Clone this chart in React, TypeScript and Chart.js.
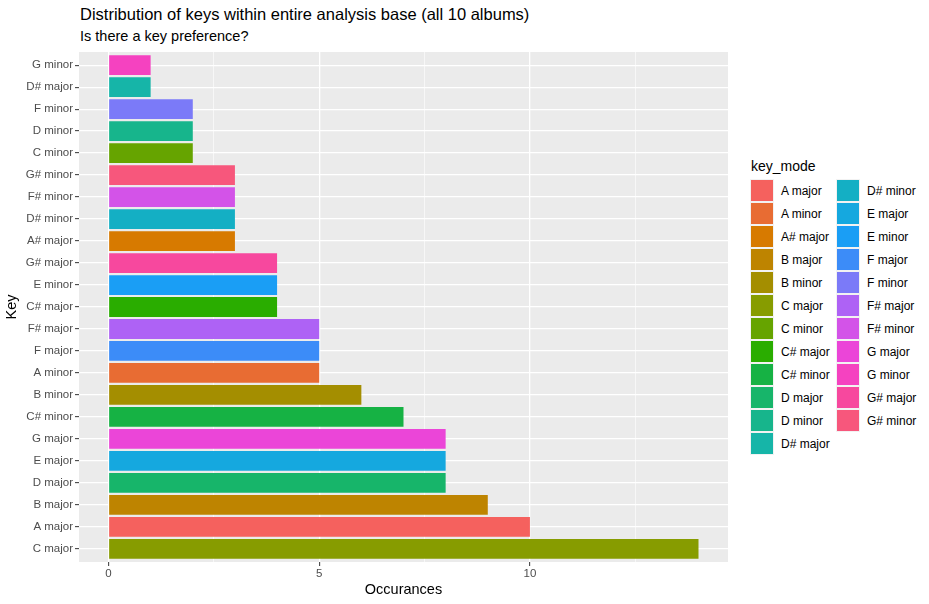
import { useEffect, useRef } from "react";
import { Chart, registerables } from "chart.js";

Chart.register(...registerables);

// bars, listed bottom to top as drawn
const keys = [
  "C major", "A major", "B major", "D major", "E major", "G major",
  "C# minor", "B minor", "A minor", "F major", "F# major", "C# major",
  "E minor", "G# major", "A# major", "D# minor", "F# minor", "G# minor",
  "C minor", "D minor", "F minor", "D# major", "G minor",
];
const occurances = [
  14, 10, 9, 8, 8, 8,
  7, 6, 5, 5, 5, 4,
  4, 4, 3, 3, 3, 3,
  2, 2, 2, 1, 1,
];

// legend order (alphabetical, as ggplot sorts the factor)
const legendKeys = [
  "A major", "A minor", "A# major", "B major", "B minor", "C major",
  "C minor", "C# major", "C# minor", "D major", "D minor", "D# major",
  "D# minor", "E major", "E minor", "F major", "F minor", "F# major",
  "F# minor", "G major", "G minor", "G# major", "G# minor",
];
const legendColors = [
  "#F5615E", "#E86C33", "#D77A00", "#BE8400", "#A48E00", "#879C00",
  "#66A400", "#2AAD00", "#16B244", "#17B56A", "#17B58C", "#16B5A8",
  "#14AFC4", "#15A8DF", "#1A9EF5", "#3C8CF8", "#7B7AF8", "#AE62F5",
  "#D353E8", "#EB45D8", "#F542C0", "#F7489E", "#F7577C",
];

const xTicks = [0, 2.5, 5, 7.5, 10, 12.5];

const FONT = "'Liberation Sans', Arial, Helvetica, sans-serif";

const colorOf = (k: string) => legendColors[legendKeys.indexOf(k)];

const panelBackground = {
  id: "panelBackground",
  beforeDraw(chart: Chart) {
    const { ctx, chartArea } = chart;
    ctx.save();
    ctx.fillStyle = "#EBEBEB";
    ctx.fillRect(chartArea.left, chartArea.top, chartArea.right - chartArea.left, chartArea.bottom - chartArea.top);
    ctx.restore();
  },
};

function KeyChart() {
  const canvasRef = useRef<HTMLCanvasElement | null>(null);

  useEffect(() => {
    if (!canvasRef.current) return;
    const chart = new Chart(canvasRef.current, {
      type: "bar",
      data: {
        datasets: [
          {
            data: keys.map((k, i) => ({ x: occurances[i], y: i })),
            backgroundColor: keys.map(colorOf),
            borderWidth: 0,
            barPercentage: 0.9,
            categoryPercentage: 1,
          },
        ],
      },
      options: {
        indexAxis: "y",
        responsive: true,
        maintainAspectRatio: false,
        animation: false,
        layout: { padding: { top: 52, right: 12, bottom: 0, left: 0 } },
        plugins: {
          legend: { display: false },
          tooltip: { enabled: false },
        },
        scales: {
          y: {
            type: "linear",
            offset: false,
            min: -0.6,
            max: keys.length - 0.4,
            afterBuildTicks: (s: any) => {
              s.ticks = keys.map((_, i) => ({ value: i }));
            },
            afterFit: (s: any) => {
              s.width = 79;
              s.paddingTop = 0;
              s.paddingBottom = 0;
            },
            ticks: {
              callback: (v: any) => keys[v as number],
              color: "#4D4D4D",
              font: { family: FONT, size: 11.5 },
              padding: 2,
              autoSkip: false,
            },
            grid: {
              offset: false,
              color: "#FFFFFF",
              lineWidth: 1.3,
              tickColor: "#333333",
              tickLength: 4,
              tickWidth: 1,
            },
            border: { display: false },
            title: {
              display: true,
              text: "Key",
              color: "#000000",
              font: { family: FONT, size: 14.5 },
              padding: { top: 3, bottom: 0 },
            },
          },
          x: {
            type: "linear",
            offset: false,
            min: -0.7,
            max: 14.7,
            afterBuildTicks: (s: any) => {
              s.ticks = xTicks.map((v) => ({ value: v }));
            },
            afterFit: (s: any) => {
              s.height = 42;
              s.paddingLeft = 0;
              s.paddingRight = 0;
            },
            ticks: {
              callback: (v: any) => ((v as number) % 5 === 0 ? String(v) : ""),
              color: "#4D4D4D",
              font: { family: FONT, size: 11.5 },
              padding: 1,
              maxRotation: 0,
              autoSkip: false,
            },
            grid: {
              offset: false,
              color: "#FFFFFF",
              lineWidth: (ctx: any) => (ctx.tick && ctx.tick.value % 5 === 0 ? 1.3 : 0.6),
              tickColor: (ctx: any) => (ctx.tick && ctx.tick.value % 5 === 0 ? "#333333" : "rgba(0,0,0,0)"),
              tickLength: 4,
              tickWidth: 1,
            },
            border: { display: false },
            title: {
              display: true,
              text: "Occurances",
              color: "#000000",
              font: { family: FONT, size: 14.5 },
              padding: { top: 0, bottom: 5 },
            },
          },
        },
      },
      plugins: [panelBackground],
    });
    return () => chart.destroy();
  }, []);

  return (
    <div style={{ position: "absolute", left: 0, top: 0, width: 740, height: 604 }}>
      <canvas ref={canvasRef} />
    </div>
  );
}

function Legend() {
  const half = Math.ceil(legendKeys.length / 2);
  const cols = [legendKeys.slice(0, half), legendKeys.slice(half)];
  return (
    <div style={{ position: "absolute", left: 750, top: 159, fontFamily: FONT, color: "#000" }}>
      <div style={{ fontSize: 14, lineHeight: "14px", height: 20, paddingLeft: 1 }}>key_mode</div>
      <div style={{ display: "flex" }}>
        {cols.map((col, ci) => (
          <div key={ci} style={{ width: ci === 0 ? 86 : 90 }}>
            {col.map((k) => (
              <div key={k} style={{ display: "flex", alignItems: "center", height: 23 }}>
                <div
                  style={{
                    width: 22,
                    height: 21,
                    background: colorOf(k),
                    border: "1px solid #F2F2F2",
                    marginRight: 7,
                  }}
                />
                <span style={{ fontSize: 12, whiteSpace: "nowrap" }}>{k}</span>
              </div>
            ))}
          </div>
        ))}
      </div>
    </div>
  );
}

export default function App() {
  return (
    <div style={{ position: "absolute", left: 0, top: 0, width: 929, height: 604, background: "#fff", fontFamily: FONT }}>
      <div style={{ position: "absolute", left: 80, top: 6, fontSize: 16.5, lineHeight: "16.5px", whiteSpace: "nowrap" }}>
        Distribution of keys within entire analysis base (all 10 albums)
      </div>
      <div style={{ position: "absolute", left: 80, top: 29, fontSize: 14.5, lineHeight: "14.5px", whiteSpace: "nowrap" }}>
        Is there a key preference?
      </div>
      <KeyChart />
      <Legend />
    </div>
  );
}
